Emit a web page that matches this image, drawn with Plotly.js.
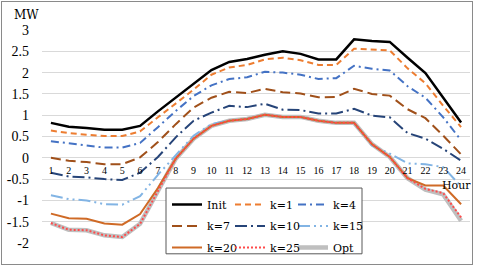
<!DOCTYPE html>
<html>
<head>
<meta charset="utf-8">
<script src="https://cdn.plot.ly/plotly-3.0.1.min.js"></script>
<style>
html,body{margin:0;padding:0;background:#fff;}
#wrap{position:relative;width:477px;height:269px;}
#chart{width:477px;height:269px;}
#frame{position:absolute;left:1px;top:1px;width:470px;height:262px;border:1px solid #8a8a8a;pointer-events:none;}
</style>
</head>
<body>
<div id="wrap"><div id="chart"></div><div id="frame"></div></div>
<script>
// ---- data ----
const hours = [1,2,3,4,5,6,7,8,9,10,11,12,13,14,15,16,17,18,19,20,21,22,23,24];
const seriesNames = ["Init","k=1","k=4","k=7","k=10","k=15","k=20","k=25","Opt"];
const init = [0.82,0.73,0.70,0.66,0.66,0.75,1.09,1.41,1.74,2.06,2.25,2.32,2.42,2.50,2.44,2.31,2.31,2.78,2.74,2.72,2.35,1.99,1.41,0.83];
const k1   = [0.64,0.58,0.54,0.51,0.51,0.62,0.95,1.27,1.60,1.95,2.12,2.18,2.31,2.35,2.29,2.18,2.18,2.56,2.54,2.52,2.10,1.75,1.22,0.72];
const k4   = [0.39,0.34,0.30,0.24,0.24,0.35,0.72,1.10,1.45,1.70,1.85,1.89,2.02,2.00,1.95,1.85,1.87,2.16,2.09,2.05,1.68,1.41,0.95,0.41];
const k7   = [0.00,-0.07,-0.10,-0.15,-0.15,0.01,0.37,0.79,1.18,1.41,1.55,1.52,1.62,1.54,1.51,1.42,1.43,1.62,1.50,1.46,1.14,0.93,0.52,0.08];
const k10  = [-0.35,-0.44,-0.46,-0.50,-0.52,-0.35,0.02,0.48,0.87,1.06,1.22,1.19,1.27,1.13,1.12,1.04,1.04,1.15,0.99,0.95,0.58,0.45,0.21,-0.07];
const k15  = [-0.88,-0.97,-1.00,-1.09,-1.10,-0.90,-0.40,0.07,0.52,0.79,0.88,0.91,1.01,0.96,0.96,0.87,0.82,0.82,0.29,0.10,-0.13,-0.15,-0.22,-0.67];
const k20  = [-1.31,-1.42,-1.43,-1.54,-1.57,-1.32,-0.71,-0.02,0.45,0.75,0.87,0.91,1.01,0.96,0.96,0.87,0.82,0.82,0.32,0.02,-0.48,-0.65,-0.65,-1.09];
const k25  = [-1.53,-1.69,-1.70,-1.82,-1.86,-1.55,-0.78,-0.02,0.45,0.75,0.87,0.91,1.01,0.96,0.96,0.87,0.82,0.82,0.32,0.02,-0.48,-0.73,-0.83,-1.40];
const opt  = [-1.53,-1.69,-1.70,-1.82,-1.86,-1.55,-0.78,-0.02,0.45,0.75,0.87,0.91,1.01,0.96,0.96,0.87,0.82,0.82,0.32,0.02,-0.48,-0.75,-0.86,-1.48];
const yTicks = [-2,-1.5,-1,-0.5,0,0.5,1,1.5,2,2.5,3];

// ---- layout constants ----
const W = 477, H = 269, M = {l:42, r:7, t:30, b:22};
const PW = W - M.l - M.r, PH = H - M.t - M.b;
const yMin = -2, yMax = 3;
const px2x = p => (p - M.l) / PW;
const px2y = p => (H - M.b - p) / PH;

const legFont = {family:"DejaVu Serif", size:11, color:"#000"};
function tr(name, y, color, width, dash, legend, rank){
  return {type:"scatter", mode:"lines", x:hours, y:y, name:name,
    line:{color:color, width:width, dash:dash},
    legend:legend, legendrank:rank, legendgroup:name, hoverinfo:"skip"};
}
const data = [
  tr(seriesNames[8], opt, "#bfbfbf", 4.5, "solid", "legend3", 3),
  tr(seriesNames[0], init, "#000000", 2.5, "solid", "legend", 1),
  tr(seriesNames[1], k1, "#ed7d31", 2, "6px,4px", "legend2", 1),
  tr(seriesNames[2], k4, "#4472c4", 2, "8px,4px,2px,4px", "legend3", 1),
  tr(seriesNames[3], k7, "#a0501a", 2, "10px,5px", "legend", 2),
  tr(seriesNames[4], k10, "#264478", 2, "12px,4px,2px,4px", "legend2", 2),
  tr(seriesNames[5], k15, "#82b4e4", 2, "12px,4px,2px,4px,2px,4px", "legend3", 2),
  tr(seriesNames[6], k20, "#cf6a26", 2, "solid", "legend", 3),
  tr(seriesNames[7], k25, "#ff4b4b", 2, "2px,2px", "legend2", 3)
];

function leg(xpx){
  return {x:px2x(xpx), y:px2y(193), xanchor:"left", yanchor:"top",
    orientation:"v", font:legFont, bgcolor:"rgba(0,0,0,0)", borderwidth:0,
    traceorder:"grouped", tracegroupgap:2.5, itemclick:false};
}

const layout = {
  width:W, height:H, margin:M, paper_bgcolor:"#fff", plot_bgcolor:"#fff",
  showlegend:true,
  legend:leg(167), legend2:leg(230), legend3:leg(293),
  xaxis:{type:"linear", range:[0.5,24.5], tickvals:hours, ticktext:hours.map(String),
    anchor:"free", position:(0 - yMin)/(yMax - yMin), showgrid:false, zeroline:false,
    showline:false, ticks:"", ticklabelstandoff:5,
    tickfont:{family:"Liberation Serif", size:10, color:"#000"}},
  yaxis:{range:[yMin,yMax], tickvals:yTicks, ticktext:yTicks.map(String),
    showgrid:true, gridcolor:"#d9d9d9", gridwidth:1, zeroline:false, showline:false,
    ticks:"", ticklabelstandoff:12,
    tickfont:{family:"Liberation Serif", size:14, color:"#000"}},
  shapes:[{type:"rect", xref:"paper", yref:"paper", layer:"above",
    x0:px2x(166), x1:px2x(362), y0:px2y(191), y1:px2y(258),
    line:{color:"#595959", width:1}, fillcolor:"#fff"}],
  annotations:[
    {text:"MW", xref:"paper", yref:"paper", x:px2x(26), y:px2y(15), xanchor:"center", yanchor:"middle",
     showarrow:false, font:{family:"DejaVu Serif", size:12, color:"#000"}},
    {text:"Hour", xref:"paper", yref:"paper", x:px2x(456), y:px2y(188), xanchor:"center", yanchor:"middle",
     showarrow:false, font:{family:"DejaVu Serif", size:11, color:"#000"}}
  ]
};
Plotly.newPlot("chart", data, layout, {staticPlot:true, displayModeBar:false});
</script>
</body>
</html>
